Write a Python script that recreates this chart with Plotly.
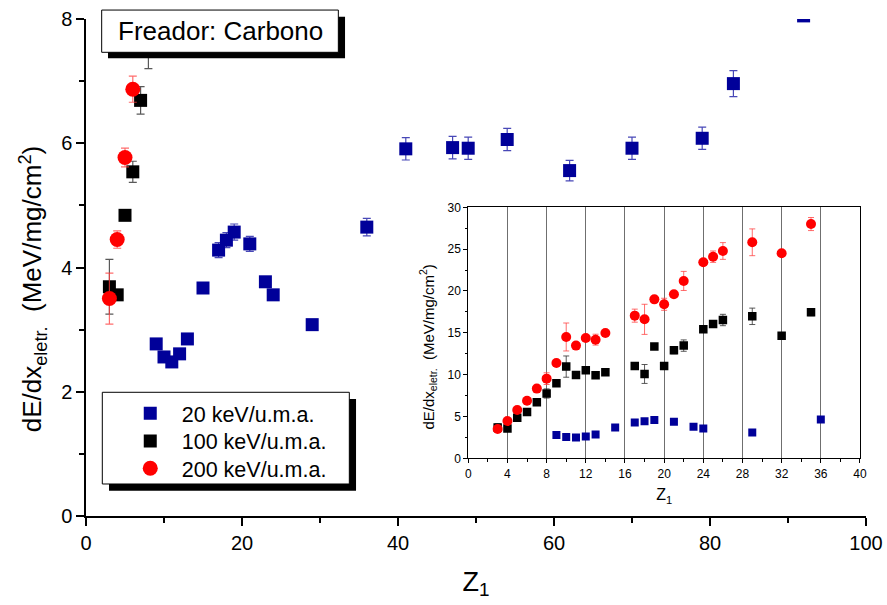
import plotly.graph_objects as go

# ---------------- data ----------------
Z_20 = [9, 10, 11, 12, 13, 15, 17, 18, 19, 21, 23, 24, 29, 36, 41, 47, 49, 54, 62, 70, 79, 83, 92]
dE_20 = [2.77, 2.56, 2.48, 2.61, 2.85, 3.67, 4.28, 4.44, 4.57, 4.38, 3.77, 3.56, 3.08, 4.65,
         5.91, 5.93, 5.92, 6.06, 5.56, 5.92, 6.08, 6.96, 8.05]
err_20 = [0.05, 0.05, 0.05, 0.05, 0.05, 0.08, 0.12, 0.12, 0.13, 0.12, 0.06, 0.06, 0.06, 0.14,
          0.18, 0.18, 0.18, 0.18, 0.165, 0.18, 0.18, 0.21, 0.05]

Z_100 = [3, 4, 5, 6, 7, 8, 9, 10, 11, 12, 13, 14, 17, 18, 19, 20, 21, 22, 24, 25, 26, 29, 32, 35]
dE_100 = [3.69, 3.56, 4.84, 5.54, 6.69, 7.75, 8.96, 10.96, 9.96, 10.52, 9.92, 10.28, 11.04, 10.08,
          13.35, 11.04, 12.9, 13.47, 15.42, 16.06, 16.53, 16.97, 14.66, 17.45]
err_100 = [0.44, 0.06, 0.07, 0.17, 0.22, 0.55, 0.3, 1.27, 0.3, 0.3, 0.3, 0.3, 0.4, 1.13,
           0.3, 0.3, 0.4, 0.68, 0.3, 0.35, 0.68, 0.98, 0.3, 0.4]

Z_200 = [3, 4, 5, 6, 7, 8, 9, 10, 11, 12, 13, 14, 17, 18, 19, 20, 21, 22, 24, 25, 26, 29, 32, 35]
dE_200 = [3.50, 4.45, 5.77, 6.87, 8.33, 9.52, 11.39, 14.50, 13.47, 14.38, 14.18, 14.98, 17.05, 16.61,
          19.0, 18.41, 19.6, 21.2, 23.43, 24.1, 24.78, 25.82, 24.5, 28.0]
err_200 = [0.41, 0.14, 0.15, 0.21, 0.3, 0.7, 0.3, 1.67, 0.3, 0.3, 0.65, 0.3, 0.78, 1.8,
           0.3, 0.72, 0.3, 1.14, 0.3, 0.68, 1.0, 1.6, 0.3, 0.78]

series_names = ["20 keV/u.m.a.", "100 keV/u.m.a.", "200 keV/u.m.a."]
title_text = "Freador: Carbono"
y_title = "dE/dx<sub>eletr.</sub>  (MeV/mg/cm<sup>2</sup>)"
x_title = "Z<sub>1</sub>"

FONT = "Liberation Sans, Arial, sans-serif"
BLUE = "#000099"

fig = go.Figure()

specs = [
    (Z_20, dE_20, err_20, series_names[0], BLUE, "rgba(40,40,170,0.85)", "square", 13, 8, "legend"),
    (Z_100, dE_100, err_100, series_names[1], "black", "rgba(60,60,60,0.85)", "square", 13, 8.5, "legend2"),
    (Z_200, dE_200, err_200, series_names[2], "#ff0000", "rgba(255,60,60,0.75)", "circle", 15, 10, "legend3"),
]

for z, v, e, name, col, ecol, sym, smain, sins, leg in specs:
    fig.add_trace(go.Scatter(
        x=z, y=v, mode="markers", name=name, legend=leg,
        marker=dict(symbol=sym, size=smain, color=col, line=dict(width=0)),
        error_y=dict(type="data", array=e, color=ecol, thickness=1.2, width=4),
        xaxis="x", yaxis="y", cliponaxis=True, showlegend=True))

for z, v, e, name, col, ecol, sym, smain, sins, leg in specs:
    fig.add_trace(go.Scatter(
        x=z, y=v, mode="markers", name=name,
        marker=dict(symbol=sym, size=sins, color=col, line=dict(width=0)),
        error_y=dict(type="data", array=e, color=ecol, thickness=1, width=3),
        xaxis="x2", yaxis="y2", cliponaxis=True, showlegend=False))

axis_common = dict(showgrid=False, zeroline=False, showline=True, linecolor="black",
                   tickcolor="black", ticks="outside", automargin=False)

# legend box + shadow, title box + shadow (paper coordinates)
shapes = [
    dict(type="rect", xref="paper", yref="paper", x0=0.0295, x1=0.3462, y0=0.0509, y1=0.2354,
         fillcolor="black", line=dict(width=0), layer="above"),
    dict(type="rect", xref="paper", yref="paper", x0=0.0209, x1=0.3376, y0=0.0644, y1=0.2489,
         fillcolor="white", line=dict(color="black", width=1), layer="above"),
    dict(type="rect", xref="paper", yref="paper", x0=0.0282, x1=0.3321, y0=0.921, y1=1.0046,
         fillcolor="black", line=dict(width=0), layer="above"),
    dict(type="rect", xref="paper", yref="paper", x0=0.0201, x1=0.3235, y0=0.933, y1=1.018,
         fillcolor="white", line=dict(color="black", width=1), layer="above"),
]

def leg(yc):
    return dict(x=0.042, y=yc, xanchor="left", yanchor="middle",
                bgcolor="rgba(0,0,0,0)", borderwidth=0,
                font=dict(size=21.5, family=FONT, color="black"), itemwidth=53)

annotations = [
    dict(text=title_text, xref="paper", yref="paper", x=0.1718, y=0.9755,
         xanchor="center", yanchor="middle", showarrow=False,
         font=dict(size=26, family=FONT, color="black")),
    # main y-axis title
    dict(text=y_title, xref="paper", yref="paper", x=-0.068, y=0.458, textangle=-90,
         xanchor="center", yanchor="middle", showarrow=False,
         font=dict(size=26, family=FONT, color="black")),
    # inset y-axis title
    dict(text=y_title, xref="paper", yref="paper", x=0.4385, y=0.339, textangle=-90,
         xanchor="center", yanchor="middle", showarrow=False,
         font=dict(size=15, family=FONT, color="black")),
]

fig.update_layout(
    width=887, height=605,
    margin=dict(l=86, r=21, t=19, b=89),
    paper_bgcolor="white", plot_bgcolor="white",
    font=dict(family=FONT, color="black"),
    showlegend=True,
    legend=leg(0.2066), legend2=leg(0.1509), legend3=leg(0.0960),
    xaxis=dict(**axis_common, domain=[0, 1], anchor="y", range=[0, 100], tick0=0, dtick=20,
               ticklen=8, tickwidth=1.5, linewidth=1.5, tickfont=dict(size=20),
               minor=dict(ticks="outside", ticklen=5, tickwidth=1.5, dtick=10, tickcolor="black"),
               title=dict(text=x_title, font=dict(size=27), standoff=19)),
    yaxis=dict(**axis_common, domain=[0, 1], anchor="x", range=[0, 8], tick0=0, dtick=2,
               ticklen=8, tickwidth=1.5, linewidth=1.5, tickfont=dict(size=20),
               minor=dict(ticks="outside", ticklen=5, tickwidth=1.5, dtick=1, tickcolor="black")),
    xaxis2=dict(zeroline=False, showline=True, linecolor="black", linewidth=1, mirror=True,
                ticks="outside", tickcolor="black", ticklen=4, tickwidth=1, automargin=False,
                domain=[0.4901, 0.9923], anchor="y2", range=[0, 40], tick0=0, dtick=4,
                showgrid=True, gridcolor="#6f6f6f", gridwidth=1,
                tickfont=dict(size=12),
                minor=dict(ticks="outside", ticklen=2.5, dtick=2, tickcolor="black", showgrid=False),
                title=dict(text=x_title, font=dict(size=16), standoff=9)),
    yaxis2=dict(zeroline=False, showline=True, linecolor="black", linewidth=1, mirror=True,
                ticks="outside", tickcolor="black", ticklen=4, tickwidth=1, showgrid=False,
                automargin=False,
                domain=[0.1161, 0.6211], anchor="x2", range=[0, 30], tick0=0, dtick=5,
                tickfont=dict(size=12),
                minor=dict(ticks="outside", ticklen=2.5, dtick=2.5, tickcolor="black")),
    xaxis3=dict(overlaying="x2", anchor="y2", side="top", range=[0, 40], tick0=0, dtick=4,
                ticks="inside", ticklen=4, tickcolor="black", showticklabels=False,
                showgrid=False, zeroline=False, showline=False, automargin=False,
                minor=dict(ticks="inside", ticklen=2.5, dtick=2, tickcolor="black")),
    yaxis3=dict(overlaying="y2", anchor="x2", side="right", range=[0, 30], tick0=0, dtick=5,
                ticks="inside", ticklen=4, tickcolor="black", showticklabels=False,
                showgrid=False, zeroline=False, showline=False, automargin=False,
                minor=dict(ticks="inside", ticklen=2.5, dtick=2.5, tickcolor="black")),
    shapes=shapes,
    annotations=annotations,
)

fig.write_html("out.html", config={"displayModeBar": False},
               post_script="document.body.style.margin='0px';document.body.style.padding='0px';")
